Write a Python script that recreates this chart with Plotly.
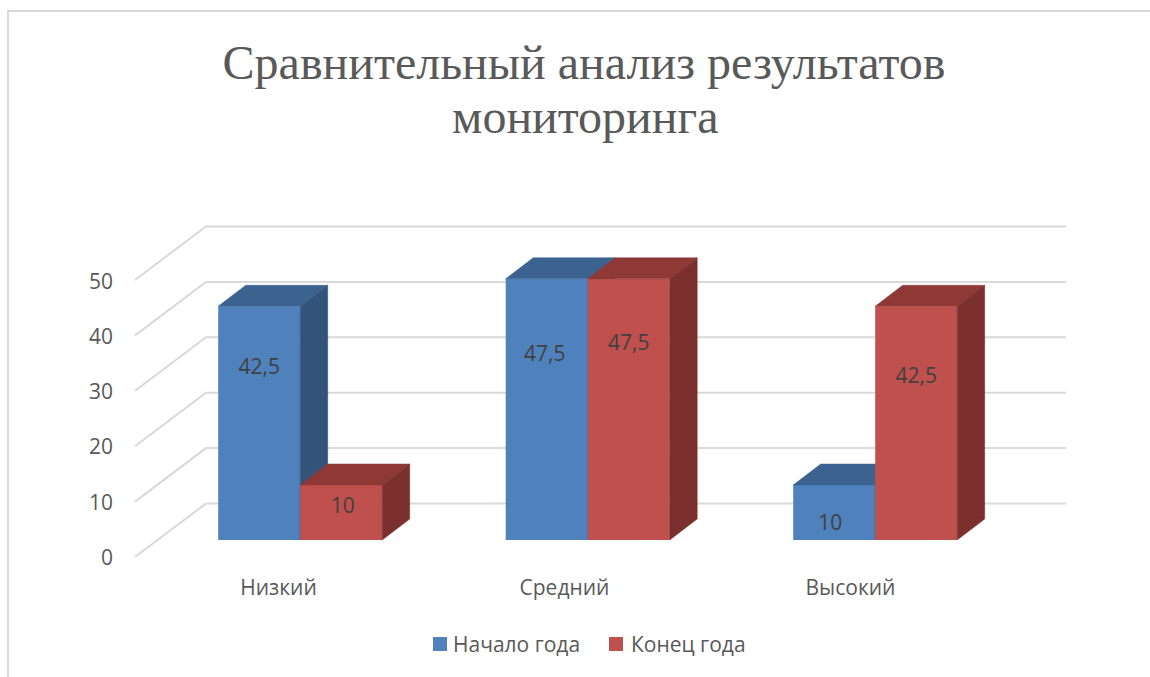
import plotly.graph_objects as go

categories = ["Низкий", "Средний", "Высокий"]
start_of_year = [42.5, 47.5, 10]
end_of_year = [10, 47.5, 42.5]
series_names = ["Начало года", "Конец года"]
grid_values = [0, 10, 20, 30, 40, 50]
title_lines = ["Сравнительный анализ результатов", "мониторинга"]

# label positions inside the bars, as drawn by the original
start_label_y = [31.15, 33.45, 2.75]
end_label_y = [5.85, 35.45, 29.45]
start_label_dx = [0, -0.007, -0.014]
end_label_dx = [0.005, 0, 0]

W, H = 1150, 677
px_per_cat = 287.5
x0_px = 300.2
bar_w = 82 / px_per_cat
depth_x = 27.5 / px_per_cat
depth_y = 21 / 5.5

BLUE = ("#4F81BD", "#3C6290", "#335379")
RED = ("#C0504D", "#8E3936", "#7B302E")
GRID = "#D9D9D9"
TEXT = "#595959"
FONT = "Open Sans"
xs = list(range(len(categories)))

fig = go.Figure()

# walls: front-left diagonal + back line for each grid value
gx, gy = [], []
for v in grid_values:
    gx += [(135 - x0_px) / px_per_cat, (206 - x0_px) / px_per_cat, (1066 - x0_px) / px_per_cat, None]
    gy += [v - 53.5 / 5.54, v, v, None]
fig.add_trace(go.Scatter(x=gx, y=gy, mode="lines", line=dict(color=GRID, width=2),
                         hoverinfo="skip", showlegend=False, xaxis="x", yaxis="y"))


def add_series(values, name, colors, left, yaxis):
    fig.add_trace(go.Bar(x=xs, y=values, name=name, width=bar_w, offset=-bar_w if left else 0,
                         marker=dict(color=colors[0], line=dict(width=0)),
                         showlegend=False, xaxis="x", yaxis=yaxis))
    tx, ty, sx, sy = [], [], [], []
    for x, v in zip(xs, values):
        a = x - bar_w if left else x
        b = x if left else x + bar_w
        tx += [a, a + depth_x, b + depth_x, b, a, None]
        ty += [v, v + depth_y, v + depth_y, v, v, None]
        sx += [b, b + depth_x, b + depth_x, b, b, None]
        sy += [0, depth_y, v + depth_y, v, 0, None]
    for px_, py_, c in ((tx, ty, colors[1]), (sx, sy, colors[2])):
        fig.add_trace(go.Scatter(x=px_, y=py_, mode="lines", fill="toself", fillcolor=c,
                                 line=dict(color=c, width=0.5), hoverinfo="skip",
                                 showlegend=False, xaxis="x", yaxis=yaxis))


add_series(start_of_year, series_names[0], BLUE, True, "y4")
add_series(end_of_year, series_names[1], RED, False, "y5")

fmt = lambda v: f"{v:g}".replace(".", ",")
label_x = [x - bar_w / 2 + d for x, d in zip(xs, start_label_dx)] + \
          [x + bar_w / 2 + d for x, d in zip(xs, end_label_dx)]
fig.add_trace(go.Scatter(x=label_x, y=start_label_y + end_label_y, mode="text",
                         text=[fmt(v) for v in start_of_year + end_of_year],
                         textposition="middle center",
                         textfont=dict(family=FONT, size=21, color="#404040"),
                         hoverinfo="skip", showlegend=False, xaxis="x", yaxis="y5"))

# carriers for the tick-label axes
fig.add_trace(go.Scatter(x=xs, y=[None] * 3, mode="markers", hoverinfo="skip",
                         showlegend=False, xaxis="x2", yaxis="y3"))

hidden = dict(visible=False, fixedrange=True)
xr = [-x0_px / px_per_cat, (W - x0_px) / px_per_cat]
yr = [(540 - H) / 5.5, 540 / 5.5]

legend_items = [(433, 451, series_names[0], BLUE[0]), (609, 629, series_names[1], RED[0])]
shapes = [
    dict(type="path", xref="paper", yref="paper", line=dict(color=GRID, width=2),
         path=f"M {8/W} 0 L {8/W} {1-11/H} L 1 {1-11/H}"),
]
annotations = [dict(text=title_lines[1], xref="paper", yref="paper", x=585 / W, y=1 - 117 / H,
                    xanchor="center", yanchor="middle", showarrow=False,
                    font=dict(family="Liberation Serif", size=48, color=TEXT))]
for sx_, tx_, nm, col in legend_items:
    shapes.append(dict(type="rect", xref="paper", yref="paper", x0=sx_ / W, x1=(sx_ + 14) / W,
                       y0=1 - 651 / H, y1=1 - 637 / H, fillcolor=col, line=dict(width=0)))
    annotations.append(dict(text=nm, xref="paper", yref="paper", x=tx_ / W, y=1 - 644 / H,
                            xanchor="left", yanchor="middle", showarrow=False,
                            font=dict(family=FONT, size=21, color=TEXT)))

fig.update_layout(
    width=W, height=H, margin=dict(l=0, r=0, t=0, b=0),
    paper_bgcolor="white", plot_bgcolor="rgba(0,0,0,0)", barmode="overlay", showlegend=False,
    title=dict(text=title_lines[0], x=584 / W, xanchor="center", y=1 - 62 / H, yanchor="middle",
               font=dict(family="Liberation Serif", size=48, color=TEXT)),
    xaxis=dict(range=xr, **hidden),
    yaxis=dict(range=[(503.5 - H) / 5.54, 503.5 / 5.54], **hidden),
    yaxis3=dict(range=[(557.5 - H) / 5.52, 557.5 / 5.52], overlaying="y", anchor="free", position=113 / W,
                tickvals=grid_values, showgrid=False, zeroline=False, showline=False, ticks="",
                tickfont=dict(family=FONT, size=21, color=TEXT), fixedrange=True),
    xaxis2=dict(range=[-278.5 / 286, (W - 278.5) / 286], overlaying="x", anchor="free", position=1 - 573 / H,
                tickvals=xs, ticktext=categories, showgrid=False, zeroline=False, showline=False, ticks="",
                tickfont=dict(family=FONT, size=21, color=TEXT), fixedrange=True),
    yaxis4=dict(range=yr, overlaying="y", **hidden),
    yaxis5=dict(range=yr, overlaying="y", **hidden),
    shapes=shapes, annotations=annotations,
)

fig.write_html("out.html", config={"displayModeBar": False},
               post_script="document.body.style.margin='0';")
